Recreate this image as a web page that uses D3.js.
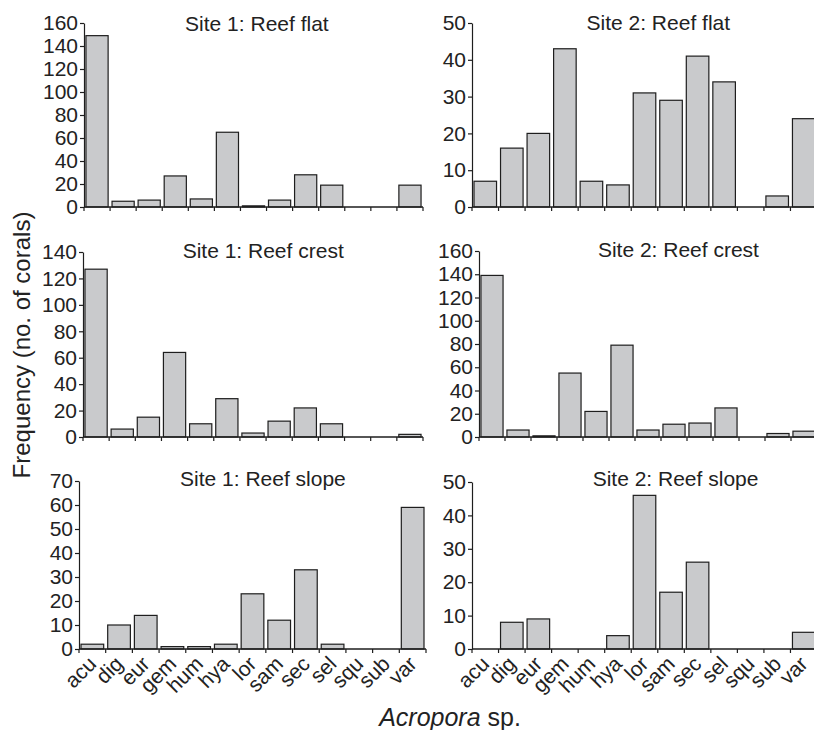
<!DOCTYPE html>
<html>
<head>
<meta charset="utf-8">
<script src="https://cdn.jsdelivr.net/npm/d3@7"></script>
<style>
  html, body { margin: 0; padding: 0; background: #fff; }
  svg { display: block; }
  text { font-family: "Liberation Sans", Arial, Helvetica, sans-serif; fill: #222; }
</style>
</head>
<body>
<svg id="chart" width="814" height="730"></svg>
<script>
// Acropora species codes (x categories)
const species = ["acu", "dig", "eur", "gem", "hum", "hya", "lor", "sam", "sec", "sel", "squ", "sub", "var"];

// Frequencies (no. of corals) per species
const site1Flat  = [149, 5, 6, 27, 7, 65, 1, 6, 28, 19, 0, 0, 19];
const site2Flat  = [7, 16, 20, 43, 7, 6, 31, 29, 41, 34, 0, 3, 24];
const site1Crest = [127, 6, 15, 64, 10, 29, 3, 12, 22, 10, 0, 0, 2];
const site2Crest = [139, 6, 1, 55, 22, 79, 6, 11, 12, 25, 0, 3, 5];
const site1Slope = [2, 10, 14, 1, 1, 2, 23, 12, 33, 2, 0, 0, 59];
const site2Slope = [0, 8, 9, 0, 0, 4, 46, 17, 26, 0, 0, 0, 5];

// y tick labels per panel
const ticks160 = [0, 20, 40, 60, 80, 100, 120, 140, 160];
const ticks140 = [0, 20, 40, 60, 80, 100, 120, 140];
const ticks70  = [0, 10, 20, 30, 40, 50, 60, 70];
const ticks50  = [0, 10, 20, 30, 40, 50];

const titles = ["Site 1: Reef flat", "Site 2: Reef flat", "Site 1: Reef crest",
                "Site 2: Reef crest", "Site 1: Reef slope", "Site 2: Reef slope"];
const seriesList = [site1Flat, site2Flat, site1Crest, site2Crest, site1Slope, site2Slope];
const tickList = [ticks160, ticks50, ticks140, ticks160, ticks70, ticks50];

// panel frames (plot area in px) and title position as fraction of width
const frames = [
  { x0: 84,  x1: 423, y0: 23,  y1: 207, tx: 0.51, ty: 31 },
  { x0: 472, x1: 817, y0: 23,  y1: 207, tx: 0.54, ty: 30 },
  { x0: 83,  x1: 423, y0: 252, y1: 437, tx: 0.53, ty: 258 },
  { x0: 479, x1: 817, y0: 251, y1: 437, tx: 0.59, ty: 257 },
  { x0: 79,  x1: 426, y0: 481, y1: 649, tx: 0.53, ty: 486 },
  { x0: 472, x1: 817, y0: 482, y1: 649, tx: 0.59, ty: 486 }
];

const FILL = "#c9cacc";
const INK = "#1e1e1e";

const svg = d3.select("#chart");

frames.forEach((f, i) => {
  const values = seriesList[i];
  const ticks = tickList[i];
  const g = svg.append("g");

  const x = d3.scaleBand()
    .domain(species)
    .range([f.x0, f.x1])
    .paddingInner(0.15)
    .paddingOuter(0.075);

  const y = d3.scaleLinear()
    .domain([0, d3.max(ticks)])
    .range([f.y1, f.y0]);

  // bars
  g.selectAll("rect")
    .data(species.map((s, j) => ({ s, v: values[j] })).filter(d => d.v > 0))
    .enter()
    .append("rect")
    .attr("x", d => x(d.s))
    .attr("y", d => y(d.v))
    .attr("width", x.bandwidth())
    .attr("height", d => y(0) - y(d.v))
    .attr("fill", FILL)
    .attr("stroke", INK)
    .attr("stroke-width", 1.2);

  // y axis
  const yAxis = g.append("g")
    .attr("transform", `translate(${f.x0},0)`)
    .call(d3.axisLeft(y).tickValues(ticks).tickSize(4).tickPadding(2).tickSizeOuter(0));
  yAxis.select(".domain").attr("stroke", INK).attr("stroke-width", 1.2);
  yAxis.selectAll(".tick line").attr("stroke", INK).attr("stroke-width", 1.2);
  yAxis.selectAll(".tick text")
    .style("font-size", "21px")
    .style("font-family", "'Liberation Sans', Arial, sans-serif")
    .attr("fill", "#222");

  // x axis: baseline with ticks at category boundaries
  const step = x.step();
  const x0 = x(species[0]) - step * 0.075;
  g.append("line")
    .attr("x1", f.x0).attr("x2", f.x1)
    .attr("y1", y(0)).attr("y2", y(0))
    .attr("stroke", INK).attr("stroke-width", 1.4);
  g.selectAll("line.xt")
    .data(d3.range(species.length + 1))
    .enter()
    .append("line")
    .attr("class", "xt")
    .attr("x1", k => x0 + k * step).attr("x2", k => x0 + k * step)
    .attr("y1", y(0)).attr("y2", y(0) + 4)
    .attr("stroke", INK).attr("stroke-width", 1.2);

  // panel title
  g.append("text")
    .attr("x", f.x0 + (f.x1 - f.x0) * f.tx)
    .attr("y", f.ty)
    .attr("text-anchor", "middle")
    .style("font-size", "21px")
    .text(titles[i]);

  // rotated species labels on the bottom row
  if (i >= 4) {
    g.selectAll("text.sp")
      .data(species)
      .enter()
      .append("text")
      .attr("class", "sp")
      .attr("transform", d => `translate(${x(d) + x.bandwidth() / 2},${y(0) + 11}) rotate(-45)`)
      .attr("dy", "0.35em")
      .attr("text-anchor", "end")
      .style("font-size", "21px")
      .text(d => d);
  }
});

// y axis title
svg.append("text")
  .attr("transform", "translate(30,345) rotate(-90)")
  .attr("text-anchor", "middle")
  .style("font-size", "24px")
  .text("Frequency (no. of corals)");

// x axis title
const xt = svg.append("text")
  .attr("x", 450)
  .attr("y", 726)
  .attr("text-anchor", "middle")
  .style("font-size", "25px");
xt.append("tspan").style("font-style", "italic").text("Acropora");
xt.append("tspan").text(" sp.");
</script>
</body>
</html>
